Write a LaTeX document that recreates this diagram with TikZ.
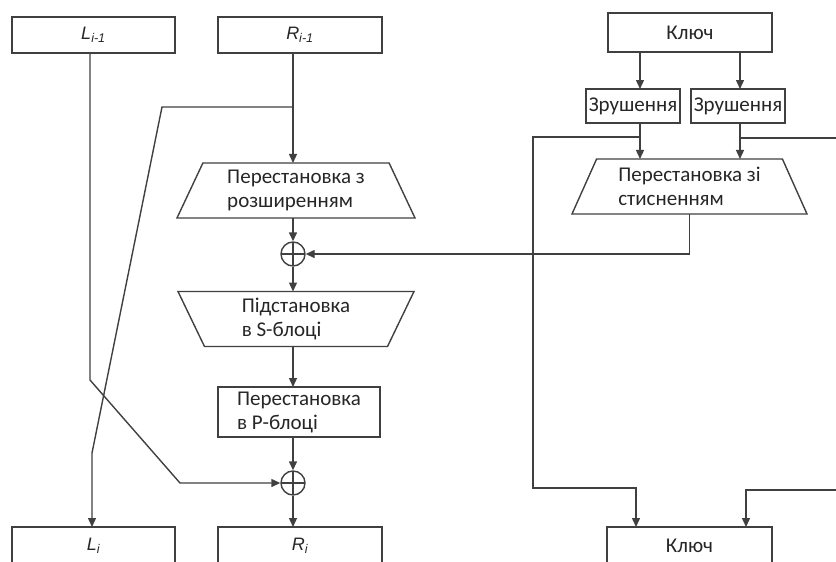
\documentclass[tikz,border=0pt]{standalone}
\usepackage{fontspec}
\setmainfont{Carlito}
\newfontfamily\latinfont{Liberation Sans}
\usetikzlibrary{arrows.meta,positioning,shapes.geometric}

\newcommand{\half}[2]{{\latinfont\itshape\fontsize{18}{20}\selectfont #1\textsubscript{#2}}}

\begin{document}
\begin{tikzpicture}[
                    x=1pt, y=-1pt,
                    >={Triangle[length=9pt,width=8pt]},
                    every node/.append style={font=\fontsize{21}{24}\selectfont, text=black!85},
                    block/.style={draw=black!75, line width=1.4pt, rectangle, minimum width=164pt,
                                  minimum height=36pt, inner sep=2pt, outer sep=0pt},
                    widen/.style={draw=black!75, line width=1.4pt, trapezium, trapezium left angle=60,
                                  trapezium right angle=60, trapezium stretches body,
                                  minimum height=55pt, inner sep=2pt, outer sep=0pt, align=left},
                    narrow/.style={widen, shape border rotate=180},
                    xor/.style={draw=black!75, line width=1.4pt, circle, minimum size=24pt, inner sep=0pt,
                                path picture={\draw[line width=1.4pt, black!75]
                                  (path picture bounding box.north) -- (path picture bounding box.south)
                                  (path picture bounding box.west) -- (path picture bounding box.east);}},
                    wire/.style={draw=black!75, line width=1.4pt}
                    ]
\useasboundingbox (0,0) rectangle (836,562);

% round function
\node[block, minimum width=163pt] (Lprev) at (93.5,35) {\half{L}{i-1}};
\node[block]                      (Rprev) at (300,35)  {\half{R}{i-1}};
\node[widen, minimum width=238pt] (expand) at (296,190.5) {Перестановка з\\розширенням};
\node[xor]                        (xorF) at (293,254) {};
\node[narrow, minimum width=236pt] (sbox) at (296,319) {Підстановка\\в S-блоці};
\node[block, minimum width=162pt, minimum height=50pt, align=left] (pbox) at (299,412) {Перестановка\\в Р-блоці};
\node[xor]                        (xorL) at (293,483) {};
\node[block, minimum width=163pt, minimum height=38pt] (Lnext) at (93.5,546) {\half{L}{i}};
\node[block, minimum height=38pt] (Rnext) at (300,546) {\half{R}{i}};

% key schedule
\node[block, minimum height=39pt] (key) at (690,32.5) {Ключ};
\node[block, minimum width=94pt, minimum height=34pt] (shiftA) at (633,106) {Зрушення};
\node[block, minimum width=94pt, minimum height=34pt] (shiftB) at (738,106) {Зрушення};
\node[widen, minimum width=235pt] (compress) at (689.5,186.5) {Перестановка зі\\стисненням};
\node[block, minimum width=165pt, minimum height=38pt] (keyNext) at (689.5,546) {Ключ};

\coordinate (split) at (293,107);
\coordinate (rbend) at (162,107);
\coordinate (rdrop) at (92,453);
\coordinate (lbend) at (90,380);
\coordinate (lfoot) at (180,483);
\coordinate (colA)  at (640,0);
\coordinate (colB)  at (740,0);
\coordinate (tapA)  at (640,137);
\coordinate (runA)  at (533,488);
\coordinate (inA)   at (636,488);
\coordinate (tapB)  at (740,138);
\coordinate (edgeB) at (840,138);
\coordinate (edgeIn) at (840,490);
\coordinate (inB)   at (746,490);

\draw[wire,->] (Rprev.south -| xorF) -- (expand.north -| xorF);
\draw[wire,->] (split) -- (rbend) -- (rdrop) -- (rdrop |- Lnext.north);
\draw[wire,->] (expand.south -| xorF) -- (xorF.north);
\draw[wire,->] (xorF.south) -- (sbox.north -| xorF);
\draw[wire,->] (sbox.south -| xorF) -- (pbox.north -| xorF);
\draw[wire,->] (pbox.south -| xorL) -- (xorL.north);
\draw[wire,->] (xorL.south) -- (Rnext.north -| xorL);
\draw[wire,->] (Lprev.south -| lbend) -- (lbend) -- (lfoot) -- (xorL.west);

\draw[wire,->] (key.south -| colA) -- (shiftA.north -| colA);
\draw[wire,->] (key.south -| colB) -- (shiftB.north -| colB);
\draw[wire,->] (shiftA.south -| colA) -- (compress.north -| colA);
\draw[wire,->] (shiftB.south -| colB) -- (compress.north -| colB);
\draw[wire,->] (tapA) -| (runA) -- (inA) -- (inA |- keyNext.north);
\draw[wire] (tapB) -- (edgeB);
\draw[wire,->] (edgeIn) -- (inB) -- (inB |- keyNext.north);
\draw[wire,->] (compress.south) |- (xorF.east);
\end{tikzpicture}
\end{document}
